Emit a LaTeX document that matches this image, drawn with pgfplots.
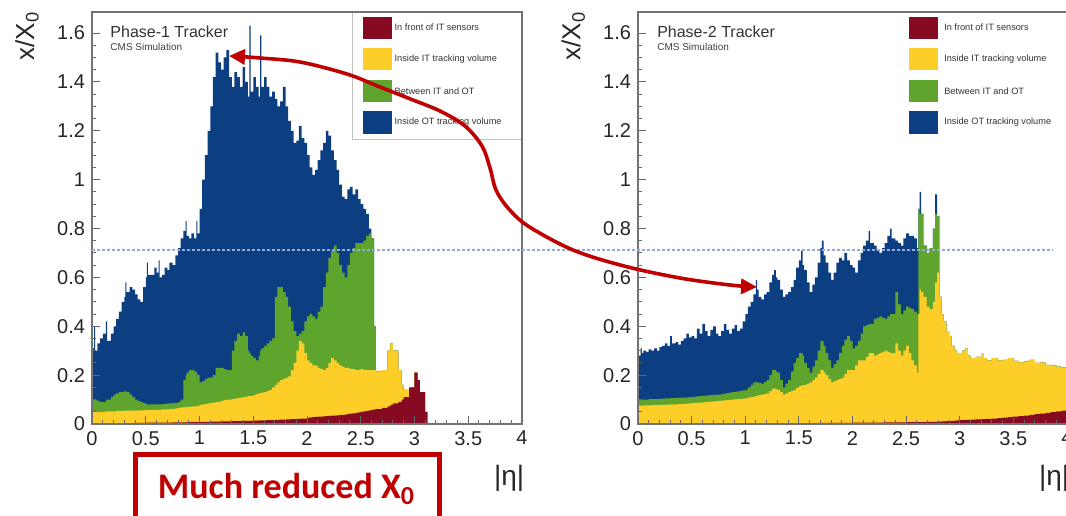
\documentclass[border=0pt]{standalone}
\usepackage{fontspec}
\setmainfont{Liberation Sans}
\newfontfamily\carlito{Carlito}
\usepackage{pgfplots}
\pgfplotsset{compat=1.18}
\usepackage{pgfplotstable}
\usetikzlibrary{arrows.meta}

\definecolor{cRed}{RGB}{135,10,35}
\definecolor{cYel}{RGB}{253,205,40}
\definecolor{cGrn}{RGB}{95,165,45}
\definecolor{cBlu}{RGB}{12,62,130}
\definecolor{cArr}{RGB}{192,0,0}
\definecolor{cDot}{RGB}{150,170,220}

% Phase-1: cumulative tops (red, +yellow, +green, +blue)
\pgfplotstableread{
eta red yel grn blu
0.000 0.004 0.050 0.100 0.310
0.020 0.004 0.050 0.100 0.400
0.030 0.004 0.050 0.100 0.300
0.050 0.004 0.048 0.095 0.330
0.075 0.004 0.050 0.090 0.350
0.100 0.004 0.050 0.090 0.370
0.130 0.004 0.052 0.100 0.420
0.140 0.004 0.052 0.100 0.340
0.175 0.004 0.052 0.110 0.370
0.200 0.004 0.052 0.120 0.400
0.225 0.004 0.054 0.125 0.430
0.250 0.004 0.054 0.130 0.460
0.275 0.004 0.054 0.130 0.500
0.300 0.004 0.055 0.135 0.520
0.310 0.004 0.055 0.135 0.580
0.320 0.004 0.055 0.130 0.540
0.350 0.004 0.055 0.120 0.560
0.375 0.004 0.055 0.110 0.550
0.400 0.005 0.055 0.100 0.530
0.425 0.005 0.056 0.095 0.510
0.450 0.005 0.056 0.090 0.500
0.475 0.005 0.056 0.085 0.560
0.500 0.006 0.057 0.080 0.600
0.510 0.006 0.057 0.080 0.660
0.520 0.006 0.057 0.080 0.610
0.550 0.006 0.058 0.080 0.610
0.580 0.006 0.058 0.080 0.640
0.600 0.006 0.058 0.080 0.620
0.620 0.006 0.058 0.080 0.670
0.630 0.006 0.058 0.080 0.600
0.650 0.006 0.060 0.082 0.610
0.675 0.006 0.060 0.082 0.640
0.700 0.006 0.060 0.084 0.630
0.720 0.006 0.062 0.084 0.660
0.750 0.007 0.062 0.085 0.650
0.775 0.007 0.064 0.086 0.690
0.800 0.007 0.066 0.090 0.720
0.825 0.007 0.068 0.100 0.760
0.850 0.007 0.068 0.180 0.790
0.870 0.007 0.070 0.200 0.830
0.880 0.007 0.070 0.210 0.770
0.900 0.008 0.070 0.220 0.760
0.925 0.008 0.072 0.220 0.780
0.950 0.008 0.072 0.215 0.760
0.970 0.008 0.072 0.210 0.830
0.980 0.008 0.074 0.200 0.780
1.000 0.008 0.078 0.170 0.880
1.025 0.009 0.080 0.175 1.000
1.050 0.009 0.082 0.185 1.100
1.075 0.009 0.084 0.190 1.200
1.100 0.010 0.086 0.190 1.300
1.125 0.010 0.088 0.200 1.420
1.150 0.010 0.090 0.230 1.520
1.175 0.010 0.092 0.230 1.480
1.200 0.011 0.095 0.230 1.450
1.225 0.011 0.098 0.225 1.500
1.250 0.011 0.100 0.220 1.530
1.275 0.011 0.100 0.220 1.420
1.300 0.012 0.102 0.300 1.380
1.325 0.012 0.104 0.340 1.440
1.350 0.012 0.106 0.370 1.420
1.375 0.012 0.108 0.360 1.380
1.400 0.013 0.110 0.375 1.460
1.425 0.013 0.112 0.360 1.400
1.450 0.013 0.114 0.300 1.340
1.465 0.013 0.114 0.290 1.630
1.475 0.013 0.115 0.280 1.360
1.500 0.014 0.118 0.270 1.420
1.525 0.014 0.122 0.260 1.380
1.550 0.015 0.125 0.280 1.340
1.565 0.015 0.126 0.300 1.590
1.575 0.015 0.128 0.310 1.380
1.600 0.015 0.130 0.320 1.420
1.625 0.016 0.135 0.330 1.380
1.650 0.016 0.140 0.340 1.340
1.675 0.016 0.150 0.350 1.360
1.700 0.017 0.160 0.520 1.330
1.725 0.017 0.170 0.560 1.300
1.750 0.018 0.180 0.560 1.320
1.775 0.018 0.185 0.540 1.380
1.800 0.019 0.190 0.520 1.300
1.825 0.019 0.195 0.480 1.240
1.850 0.020 0.220 0.420 1.200
1.875 0.020 0.250 0.380 1.150
1.900 0.021 0.300 0.360 1.160
1.925 0.021 0.340 0.370 1.220
1.950 0.022 0.330 0.380 1.170
1.975 0.022 0.290 0.420 1.150
2.000 0.025 0.260 0.440 1.100
2.025 0.027 0.250 0.450 1.050
2.050 0.028 0.240 0.440 1.020
2.075 0.029 0.240 0.430 1.040
2.100 0.030 0.230 0.460 1.080
2.125 0.030 0.225 0.480 1.120
2.150 0.031 0.220 0.560 1.150
2.175 0.032 0.230 0.620 1.200
2.200 0.033 0.250 0.680 1.180
2.225 0.034 0.270 0.710 1.120
2.250 0.034 0.260 0.730 1.080
2.275 0.035 0.250 0.700 1.040
2.300 0.036 0.240 0.650 0.980
2.325 0.037 0.235 0.620 0.930
2.350 0.038 0.230 0.600 0.920
2.375 0.040 0.230 0.650 0.960
2.400 0.042 0.225 0.700 0.970
2.425 0.044 0.225 0.720 0.940
2.450 0.046 0.220 0.740 0.960
2.475 0.048 0.222 0.740 0.920
2.500 0.050 0.225 0.740 0.900
2.525 0.052 0.222 0.750 0.880
2.550 0.054 0.220 0.770 0.860
2.575 0.056 0.220 0.780 0.800
2.600 0.058 0.220 0.760 0.760
2.625 0.060 0.220 0.400 0.400
2.640 0.061 0.215 0.215 0.215
2.700 0.066 0.220 0.220 0.220
2.750 0.072 0.300 0.300 0.300
2.775 0.078 0.330 0.330 0.330
2.800 0.084 0.300 0.300 0.300
2.850 0.090 0.220 0.220 0.220
2.880 0.100 0.160 0.160 0.160
2.900 0.110 0.140 0.140 0.140
2.950 0.150 0.150 0.150 0.150
3.000 0.210 0.210 0.210 0.210
3.030 0.180 0.180 0.180 0.180
3.050 0.130 0.130 0.130 0.130
3.100 0.050 0.050 0.050 0.050
3.120 0.000 0.000 0.000 0.000
}\dataL

% Phase-2: cumulative tops
\pgfplotstableread{
eta red yel grn blu
0.000 0.002 0.075 0.100 0.280
0.025 0.002 0.075 0.100 0.310
0.035 0.002 0.075 0.100 0.290
0.050 0.002 0.076 0.100 0.300
0.075 0.002 0.076 0.100 0.295
0.100 0.002 0.076 0.102 0.305
0.125 0.002 0.077 0.102 0.300
0.150 0.002 0.077 0.102 0.310
0.175 0.002 0.077 0.103 0.300
0.200 0.002 0.078 0.103 0.315
0.225 0.002 0.078 0.104 0.320
0.250 0.002 0.078 0.105 0.330
0.275 0.002 0.079 0.105 0.320
0.300 0.002 0.080 0.106 0.360
0.315 0.002 0.080 0.106 0.330
0.350 0.002 0.080 0.107 0.335
0.375 0.002 0.081 0.107 0.325
0.400 0.002 0.082 0.108 0.340
0.425 0.002 0.082 0.108 0.350
0.450 0.002 0.083 0.109 0.370
0.475 0.002 0.084 0.110 0.355
0.500 0.002 0.085 0.110 0.360
0.525 0.002 0.086 0.112 0.350
0.550 0.002 0.087 0.113 0.390
0.575 0.002 0.088 0.114 0.370
0.600 0.002 0.089 0.115 0.410
0.625 0.002 0.090 0.116 0.380
0.650 0.002 0.091 0.117 0.360
0.675 0.002 0.092 0.118 0.385
0.700 0.002 0.093 0.119 0.400
0.725 0.002 0.094 0.120 0.370
0.750 0.002 0.095 0.120 0.360
0.775 0.002 0.096 0.122 0.380
0.800 0.002 0.097 0.124 0.410
0.825 0.002 0.098 0.126 0.385
0.850 0.002 0.099 0.128 0.370
0.875 0.002 0.100 0.130 0.390
0.900 0.002 0.101 0.132 0.405
0.925 0.002 0.102 0.134 0.380
0.950 0.002 0.103 0.136 0.390
0.975 0.002 0.104 0.138 0.420
1.000 0.003 0.105 0.140 0.450
1.025 0.003 0.108 0.150 0.480
1.050 0.003 0.110 0.160 0.500
1.075 0.003 0.112 0.170 0.530
1.100 0.003 0.115 0.170 0.590
1.110 0.003 0.115 0.170 0.550
1.125 0.003 0.118 0.168 0.520
1.150 0.003 0.120 0.165 0.510
1.175 0.003 0.122 0.172 0.530
1.200 0.003 0.125 0.180 0.540
1.225 0.003 0.135 0.200 0.580
1.250 0.004 0.145 0.220 0.610
1.270 0.004 0.145 0.222 0.630
1.285 0.004 0.142 0.215 0.600
1.300 0.004 0.140 0.210 0.590
1.325 0.004 0.130 0.180 0.550
1.350 0.004 0.120 0.150 0.520
1.375 0.004 0.125 0.165 0.530
1.400 0.004 0.130 0.180 0.540
1.425 0.004 0.135 0.215 0.560
1.450 0.004 0.140 0.250 0.590
1.475 0.004 0.148 0.270 0.640
1.500 0.004 0.155 0.290 0.670
1.520 0.004 0.158 0.290 0.710
1.535 0.004 0.158 0.280 0.650
1.550 0.004 0.160 0.250 0.630
1.575 0.004 0.165 0.230 0.580
1.600 0.004 0.170 0.210 0.540
1.625 0.004 0.180 0.235 0.570
1.650 0.004 0.190 0.260 0.600
1.675 0.004 0.205 0.300 0.660
1.700 0.005 0.220 0.340 0.720
1.715 0.005 0.220 0.340 0.750
1.730 0.005 0.210 0.320 0.690
1.750 0.005 0.200 0.290 0.660
1.775 0.005 0.185 0.260 0.620
1.800 0.005 0.170 0.230 0.590
1.825 0.005 0.175 0.245 0.620
1.850 0.005 0.180 0.260 0.660
1.875 0.005 0.185 0.290 0.680
1.900 0.005 0.190 0.320 0.670
1.925 0.005 0.205 0.345 0.700
1.950 0.005 0.220 0.360 0.670
1.975 0.005 0.220 0.340 0.650
2.000 0.006 0.220 0.310 0.640
2.025 0.006 0.240 0.320 0.620
2.050 0.006 0.260 0.340 0.670
2.075 0.006 0.260 0.370 0.700
2.100 0.006 0.260 0.400 0.730
2.125 0.006 0.275 0.405 0.750
2.150 0.006 0.290 0.410 0.790
2.165 0.006 0.290 0.410 0.740
2.200 0.006 0.280 0.430 0.730
2.225 0.006 0.285 0.435 0.710
2.250 0.006 0.290 0.440 0.700
2.275 0.006 0.295 0.435 0.720
2.300 0.007 0.300 0.430 0.740
2.325 0.007 0.295 0.440 0.770
2.350 0.007 0.290 0.450 0.800
2.365 0.007 0.290 0.450 0.760
2.400 0.007 0.330 0.540 0.750
2.425 0.007 0.300 0.490 0.740
2.450 0.007 0.280 0.450 0.730
2.475 0.007 0.300 0.465 0.760
2.500 0.008 0.320 0.480 0.780
2.525 0.008 0.290 0.475 0.770
2.550 0.008 0.260 0.470 0.770
2.575 0.008 0.240 0.460 0.760
2.600 0.008 0.210 0.450 0.720
2.615 0.008 0.450 0.880 0.880
2.625 0.008 0.550 0.860 0.950
2.640 0.008 0.540 0.860 0.860
2.660 0.008 0.520 0.730 0.730
2.690 0.008 0.480 0.700 0.700
2.720 0.009 0.470 0.720 0.720
2.750 0.009 0.500 0.800 0.800
2.770 0.009 0.580 0.860 0.940
2.790 0.010 0.620 0.850 0.850
2.810 0.010 0.520 0.520 0.520
2.830 0.011 0.450 0.450 0.450
2.850 0.011 0.420 0.420 0.420
2.875 0.012 0.380 0.380 0.380
2.900 0.012 0.360 0.360 0.360
2.925 0.013 0.320 0.320 0.320
2.950 0.014 0.300 0.300 0.300
2.975 0.015 0.290 0.290 0.290
3.000 0.016 0.290 0.290 0.290
3.025 0.016 0.300 0.300 0.300
3.050 0.017 0.310 0.310 0.310
3.075 0.017 0.280 0.280 0.280
3.100 0.018 0.270 0.270 0.270
3.150 0.019 0.275 0.275 0.275
3.200 0.020 0.290 0.290 0.290
3.225 0.020 0.270 0.270 0.270
3.250 0.021 0.260 0.260 0.260
3.300 0.022 0.270 0.270 0.270
3.350 0.024 0.260 0.260 0.260
3.400 0.026 0.262 0.262 0.262
3.450 0.028 0.270 0.270 0.270
3.500 0.030 0.258 0.258 0.258
3.550 0.032 0.252 0.252 0.252
3.600 0.034 0.255 0.255 0.255
3.650 0.037 0.262 0.262 0.262
3.700 0.040 0.250 0.250 0.250
3.750 0.043 0.252 0.252 0.252
3.800 0.046 0.242 0.242 0.242
3.850 0.049 0.240 0.240 0.240
3.900 0.052 0.235 0.235 0.235
3.950 0.055 0.232 0.232 0.232
4.000 0.057 0.232 0.232 0.232
}\dataR

\pgfplotsset{
  cmsaxis/.style={
    scale only axis, height=206pt,
    xmin=0, xmax=4, ymin=0, ymax=1.686,
    axis on top, tick pos=left, tick align=inside,
    xtick={0,0.5,1,1.5,2,2.5,3,3.5,4},
    ytick={0,0.2,0.4,0.6,0.8,1,1.2,1.4,1.6},
    minor x tick num=4, minor y tick num=3,
    major tick length=4pt, minor tick length=2pt,
    axis line style={black!55, line width=0.6pt},
    every tick/.style={black!60, line width=0.5pt},
    tick label style={font=\fontsize{10}{11}\selectfont, text=black!85},
    /pgf/number format/assume math mode=true,
    ylabel={x/X\textsubscript{0}},
    ylabel style={at={(axis description cs:-0.151,0.942)}, anchor=center,
      font=\fontsize{13}{14}\selectfont, text=black!85},
    xlabel={|η|},
    xlabel style={at={(axis description cs:0.970,-0.131)}, anchor=center,
      font=\fontsize{14}{15}\selectfont, text=black!85},
  },
}
\tikzset{
  legtxt/.style={anchor=west, inner sep=0pt, font=\fontsize{4.6}{5}\selectfont, text=black!80},
  ttl/.style={anchor=base west, inner sep=0pt, font=\fontsize{8}{9}\selectfont, text=black!80},
  sub/.style={anchor=base west, inner sep=0pt, font=\fontsize{5}{6}\selectfont, text=black!75},
}

\begin{document}
\begin{tikzpicture}
\useasboundingbox (0,0) rectangle (533pt,-257.5pt);
\clip (0,0) rectangle (533pt,-257.5pt);

% ---- Phase-1 ----
\begin{axis}[cmsaxis, width=215pt, at={(46pt,-212pt)}, anchor=south west]
\addplot[draw=none, fill=cBlu, const plot] table[x=eta,y=blu]{\dataL} \closedcycle;
\addplot[draw=none, fill=cGrn, const plot] table[x=eta,y=grn]{\dataL} \closedcycle;
\addplot[draw=none, fill=cYel, const plot] table[x=eta,y=yel]{\dataL} \closedcycle;
\addplot[draw=none, fill=cRed, const plot] table[x=eta,y=red]{\dataL} \closedcycle;
\draw[black!25, line width=0.4pt] (rel axis cs:0.605,1) -- (rel axis cs:0.605,0.69) -- (rel axis cs:1,0.69);
\fill[cRed] (rel axis cs:0.630,0.935) rectangle (rel axis cs:0.698,0.989);
\fill[cYel] (rel axis cs:0.630,0.859) rectangle (rel axis cs:0.698,0.913);
\fill[cGrn] (rel axis cs:0.630,0.781) rectangle (rel axis cs:0.698,0.835);
\fill[cBlu] (rel axis cs:0.630,0.705) rectangle (rel axis cs:0.698,0.759);
\node[legtxt] at (rel axis cs:0.703,0.962) {In front of IT sensors};
\node[legtxt] at (rel axis cs:0.703,0.886) {Inside IT tracking volume};
\node[legtxt] at (rel axis cs:0.703,0.808) {Between IT and OT};
\node[legtxt] at (rel axis cs:0.703,0.732) {Inside OT tracking volume};
\node[ttl] at (rel axis cs:0.042,0.939) {Phase-1 Tracker};
\node[sub] at (rel axis cs:0.042,0.907) {CMS Simulation};
\end{axis}

% ---- Phase-2 ----
\begin{axis}[cmsaxis, width=214.5pt, at={(319pt,-212pt)}, anchor=south west]
\addplot[draw=none, fill=cBlu, const plot] table[x=eta,y=blu]{\dataR} \closedcycle;
\addplot[draw=none, fill=cGrn, const plot] table[x=eta,y=grn]{\dataR} \closedcycle;
\addplot[draw=none, fill=cYel, const plot] table[x=eta,y=yel]{\dataR} \closedcycle;
\addplot[draw=none, fill=cRed, const plot] table[x=eta,y=red]{\dataR} \closedcycle;
\fill[cRed] (rel axis cs:0.632,0.935) rectangle (rel axis cs:0.699,0.989);
\fill[cYel] (rel axis cs:0.632,0.859) rectangle (rel axis cs:0.699,0.913);
\fill[cGrn] (rel axis cs:0.632,0.781) rectangle (rel axis cs:0.699,0.835);
\fill[cBlu] (rel axis cs:0.632,0.705) rectangle (rel axis cs:0.699,0.759);
\node[legtxt] at (rel axis cs:0.713,0.962) {In front of IT sensors};
\node[legtxt] at (rel axis cs:0.713,0.886) {Inside IT tracking volume};
\node[legtxt] at (rel axis cs:0.713,0.808) {Between IT and OT};
\node[legtxt] at (rel axis cs:0.713,0.732) {Inside OT tracking volume};
\node[ttl] at (rel axis cs:0.044,0.939) {Phase-2 Tracker};
\node[sub] at (rel axis cs:0.044,0.907) {CMS Simulation};
\end{axis}

% ---- annotations (pixel coordinates, y downward) ----
\begin{scope}[x=0.5pt,y=-0.5pt]
\draw[cDot, line width=0.8pt, dash pattern=on 1.5pt off 1pt] (92,249.7) -- (1053,249.7);
\draw[cArr, line width=1.8pt, {Triangle[length=8pt,width=7.5pt]}-{Triangle[length=8pt,width=7.5pt]}]
  plot[smooth, tension=0.55] coordinates {(229,56) (260,58) (300,62) (347,74) (380,87) (413,100) (440,111) (465,126) (482,146) (490,168) (496,190) (508,208) (528,226) (573,250) (624,266) (680,278) (730,285) (757,287)};
\draw[cArr, line width=2.5pt, fill=white] (135.5,454.5) rectangle (439.5,540);
\node[text=cArr, anchor=base, inner sep=0pt] at (286,498)
  {\carlito\bfseries\fontsize{18}{20}\selectfont Much reduced X\raisebox{-3pt}{\fontsize{13}{14}\selectfont 0}};
\end{scope}
\end{tikzpicture}
\end{document}
